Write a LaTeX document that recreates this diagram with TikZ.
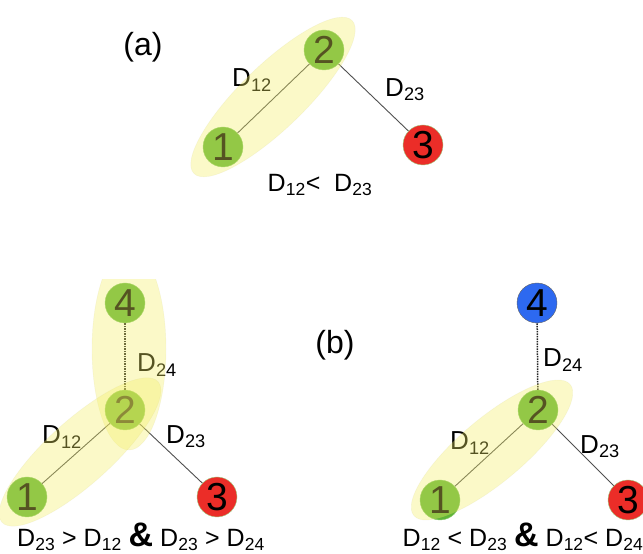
\documentclass[tikz,border=0pt]{standalone}
\usepackage{fontspec}
\setmainfont{Liberation Sans}
\usetikzlibrary{positioning}
\definecolor{nodegreen}{RGB}{95,180,55}
\definecolor{nodered}{RGB}{235,45,40}
\definecolor{nodeblue}{RGB}{45,105,240}
\definecolor{hlyellow}{RGB}{245,240,100}
\definecolor{edgegray}{RGB}{80,80,80}
\newcommand{\dd}[1]{D\textsubscript{#1}}
\newcommand{\amp}{{\fontsize{34}{34}\selectfont\bfseries\&}}

\begin{document}
\begin{tikzpicture}[x=1pt,y=1pt,
  vertex/.style={circle,minimum size=40pt,inner sep=0pt,line width=0.4pt,
    font=\fontsize{39}{39}\selectfont},
  gvertex/.style={vertex,fill=nodegreen,draw=nodegreen!70!white},
  rvertex/.style={vertex,fill=nodered,draw=nodegreen!60!white},
  bvertex/.style={vertex,fill=nodeblue,draw=black!60},
  dlabel/.style={inner sep=0pt,font=\fontsize{26}{26}\selectfont},
  cond/.style={inner sep=0pt,font=\fontsize{25}{25}\selectfont},
  tag/.style={inner sep=0pt,font=\fontsize{32}{32}\selectfont},
  link/.style={edgegray,line width=0.9pt},
  dlink/.style={black!85,line width=1.5pt,dash pattern=on 1.5pt off 1pt},
  cluster/.style={fill=hlyellow,fill opacity=0.35,draw=hlyellow!60!gray,draw opacity=0.15}
]
  \clip (0,0) rectangle (643,554);
  \fill[white] (0,0) rectangle (643,554);

  % (a) three points
  \node[tag] (taga) at (143,507) {(a)};
  \node[gvertex] (a1) at (223,407) {1};
  \node[gvertex] (a2) at (324,504) {2};
  \node[rvertex] (a3) at (423,409) {3};
  \draw[link] (a1) -- (a2);
  \draw[link] (a2) -- (a3);
  \node[dlabel] (a12) at (252,474) {\dd{12}};
  \node[dlabel] (a23) at (405,464) {\dd{23}};
  \node[cond] (conda) at (320,369) {\dd{12}<\ \ \dd{23}};
  \draw[cluster,rotate around={44:(273,457)}] (273,457) ellipse (110 and 32);

  % (b) four points
  \node[tag] (tagb) at (335,209) {(b)};

  % left: 2 joins both groups
  \node[gvertex] (l1) at (27,57) {1};
  \node[gvertex] (l2) at (125,144) {2};
  \node[rvertex] (l3) at (217,57) {3};
  \node[gvertex] (l4) at (125,251) {4};
  \draw[link] (l1) -- (l2);
  \draw[link] (l2) -- (l3);
  \draw[dlink] (l2) -- (l4);
  \node[dlabel] (l12) at (62,117) {\dd{12}};
  \node[dlabel] (l23) at (186,117) {\dd{23}};
  \node[dlabel] (l24) at (157,189) {\dd{24}};
  \node[cond] (condl) at (141,17) {\dd{23} > \dd{12} \amp{} \dd{23} > \dd{24}};
  \begin{scope}
    \clip (0,0) rectangle (643,274);
    \draw[cluster] (129,205) ellipse (37 and 101);
  \end{scope}
  \draw[cluster,rotate around={42:(80,102)}] (80,102) ellipse (105 and 32);

  % right: only 1 and 2 grouped
  \node[gvertex] (r1) at (440,54) {1};
  \node[gvertex] (r2) at (538,144) {2};
  \node[rvertex] (r3) at (628,54) {3};
  \node[bvertex] (r4) at (537,251) {4};
  \draw[link] (r1) -- (r2);
  \draw[link] (r2) -- (r3);
  \draw[dlink] (r2) -- (r4);
  \node[dlabel] (r12) at (470,111) {\dd{12}};
  \node[dlabel] (r23) at (600,107) {\dd{23}};
  \node[dlabel] (r24) at (563,194) {\dd{24}};
  \node[cond] (condr) at (523,17) {\dd{12} < \dd{23} \amp{} \dd{12}< \dd{24}};
  \draw[cluster,rotate around={40:(492,104)}] (492,104) ellipse (102 and 32);
\end{tikzpicture}
\end{document}
